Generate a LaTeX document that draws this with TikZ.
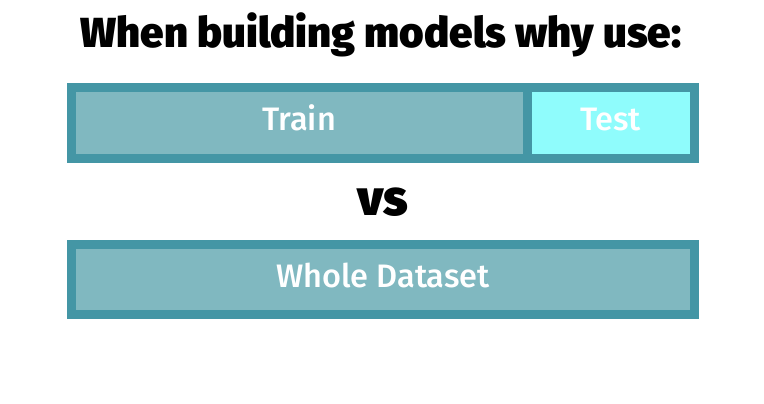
\documentclass[tikz,border=0pt]{standalone}
\usepackage{fontspec}
\setmainfont{Fira Sans}
\newfontfamily\titlefont{Fira Sans Black}
\newfontfamily\labelfont{Fira Sans Medium}
\definecolor{edge}{HTML}{4496A5}
\definecolor{trainfill}{HTML}{80B8C0}
\definecolor{testfill}{HTML}{8FFCFC}
\tikzset{
  bar/.style={draw=edge, line width=9pt, fill=trainfill},
  testbar/.style={draw=edge, line width=9pt, fill=testfill},
  lbl/.style={text=white, font=\labelfont\fontsize{32.5}{36}\selectfont, inner sep=0pt},
}
\begin{document}
\begin{tikzpicture}[x=1pt,y=-1pt]
\useasboundingbox (0,0) rectangle (764,404);
\node[font=\titlefont\fontsize{42}{46}\selectfont, inner sep=0pt, anchor=base] (title) at (381,47.3) {When building models why use:};
\draw[bar] (71.5,87.5) rectangle (527,158) coordinate (trainbr);
\draw[testbar] (527,87.5) rectangle (694.5,158);
\node[lbl, anchor=base] (train) at (299,130.5) {Train};
\node[lbl, anchor=base] (test) at (610.5,130.5) {Test};
\node[font=\titlefont\fontsize{50}{56}\selectfont, inner sep=0pt, anchor=base] (vs) at (383,215) {vs};
\draw[bar] (71.5,244.5) rectangle (694.5,314);
\node[lbl, anchor=base] (whole) at (383,287.5) {Whole Dataset};
\end{tikzpicture}
\end{document}
